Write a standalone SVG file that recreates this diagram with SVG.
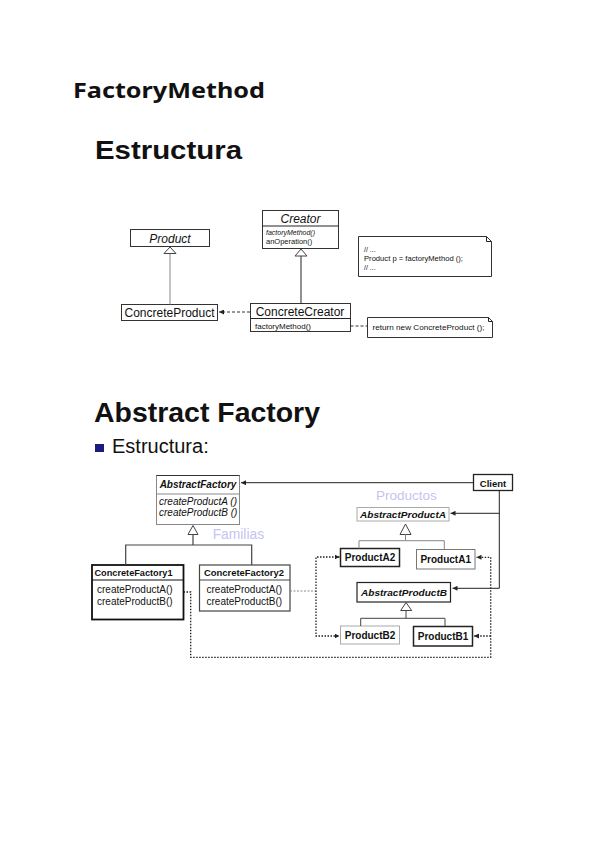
<svg xmlns="http://www.w3.org/2000/svg" width="599" height="848" viewBox="0 0 599 848">
<style>
text{font-family:"Liberation Sans",Arial,sans-serif;fill:#111}
.h{font-weight:700}
.box{fill:#fff;stroke:#333;stroke-width:1}
.ln{fill:none;stroke:#222;stroke-width:1}
.lg{fill:none;stroke:#888;stroke-width:1}
.dash{fill:none;stroke:#333;stroke-width:1;stroke-dasharray:3,2}
.dot{fill:none;stroke:#222;stroke-width:1.3;stroke-dasharray:1.5,1.5}
.tri{fill:#fff;stroke:#444;stroke-width:1}
.lav{fill:#c4c4f2}
</style>
<defs>
<marker id="ah" viewBox="0 0 6 6" refX="6" refY="3" markerWidth="5" markerHeight="5" orient="auto" markerUnits="userSpaceOnUse">
<path d="M0,0 L6,3 L0,6 z" fill="#222"/>
</marker>
</defs>
<rect width="599" height="848" fill="#fff"/>

<text x="73" y="98" style="font-family:'Noto Sans','Liberation Sans',sans-serif" font-weight="700" font-size="21" textLength="192" lengthAdjust="spacingAndGlyphs">FactoryMethod</text>
<text x="95" y="159" class="h" font-size="25" textLength="147" lengthAdjust="spacingAndGlyphs">Estructura</text>

<!-- Factory Method diagram -->
<g id="product">
<rect class="box" x="130.5" y="229.5" width="79" height="17"/>
<text x="170" y="243" font-size="12" font-style="italic" text-anchor="middle">Product</text>
</g>
<g id="creator">
<rect class="box" x="262.5" y="210.5" width="76" height="38"/>
<line class="ln" x1="262.5" y1="226" x2="338.5" y2="226"/>
<text x="300.5" y="223" font-size="12" font-style="italic" text-anchor="middle">Creator</text>
<text x="266" y="235" font-size="7" font-style="italic">factoryMethod()</text>
<text x="266" y="244" font-size="7.5">anOperation()</text>
</g>
<g id="concreteProduct">
<rect class="box" x="121.5" y="304.5" width="96" height="16"/>
<text x="169.5" y="317" font-size="12" text-anchor="middle">ConcreteProduct</text>
</g>
<g id="concreteCreator">
<rect class="box" x="250.5" y="303.5" width="100" height="28"/>
<line class="ln" x1="250.5" y1="318.5" x2="350.5" y2="318.5"/>
<text x="300" y="316" font-size="12" text-anchor="middle">ConcreteCreator</text>
<text x="255" y="328.5" font-size="8">factoryMethod()</text>
</g>
<g id="note1">
<path class="box" d="M358.5,236.5 H486.5 L491.5,241.5 V276.5 H358.5 Z"/>
<path class="ln" d="M486.5,236.5 V241.5 H491.5"/>
<text x="364" y="252" font-size="7">// ...</text>
<text x="364" y="261" font-size="7.5" textLength="99" lengthAdjust="spacingAndGlyphs">Product p = factoryMethod ();</text>
<text x="364" y="270" font-size="7">// ...</text>
</g>
<g id="note2">
<path class="box" d="M367.5,317.5 H488.5 L492.5,321.5 V337.5 H367.5 Z"/>
<path class="ln" d="M488.5,317.5 V321.5 H492.5"/>
<text x="372.5" y="330" font-size="8" textLength="112" lengthAdjust="spacingAndGlyphs">return new ConcreteProduct ();</text>
</g>
<g id="fm-connectors">
<line class="lg" x1="170" y1="254" x2="170" y2="304.5"/>
<polygon class="tri" points="170,247 164,253.5 176,253.5"/>
<line class="ln" x1="301" y1="256" x2="301" y2="303.5"/>
<polygon class="tri" points="301,249 295,256 307,256"/>
<line class="dash" x1="250" y1="312" x2="219" y2="312" marker-end="url(#ah)"/>
<line class="dash" x1="350.5" y1="326" x2="367.5" y2="326"/>
</g>

<!-- Abstract Factory -->
<text x="94" y="422" class="h" font-size="28.5" textLength="226" lengthAdjust="spacingAndGlyphs">Abstract Factory</text>
<rect x="95" y="444" width="9" height="8" fill="#1c1c80"/>
<text x="112" y="453" font-size="20">Estructura:</text>

<g id="abstractFactory">
<rect x="156.5" y="475.5" width="83" height="49" fill="#fff" stroke="#888"/>
<line x1="156.5" y1="475.5" x2="239.5" y2="475.5" stroke="#333"/>
<line x1="156.5" y1="494" x2="239.5" y2="494" stroke="#888"/>
<text x="198" y="488" font-size="10" class="h" font-style="italic" text-anchor="middle">AbstractFactory</text>
<text x="159" y="505" font-size="10" font-style="italic" fill="#222">createProductA ()</text>
<text x="159" y="516" font-size="10" font-style="italic" fill="#222">createProductB ()</text>
</g>
<text x="212.7" y="538.5" font-size="13.8" class="lav">Familias</text>
<text x="376" y="499.5" font-size="13.5" class="lav">Productos</text>

<g id="concreteFactory1">
<rect x="92" y="565" width="91.5" height="54.5" fill="#fff" stroke="#111" stroke-width="1.8"/>
<line x1="92" y1="580" x2="183.5" y2="580" stroke="#111" stroke-width="1.2"/>
<text x="94.5" y="576" font-size="9.5" class="h" textLength="78" lengthAdjust="spacingAndGlyphs">ConcreteFactory1</text>
<text x="97" y="593" font-size="10" fill="#222">createProductA()</text>
<text x="97" y="604.5" font-size="10" fill="#222">createProductB()</text>
</g>
<g id="concreteFactory2">
<rect x="199.5" y="565" width="90.5" height="46" fill="#fff" stroke="#444" stroke-width="1.2"/>
<line x1="199.5" y1="580" x2="290" y2="580" stroke="#444"/>
<text x="204" y="576" font-size="9.5" class="h" textLength="80" lengthAdjust="spacingAndGlyphs">ConcreteFactory2</text>
<text x="206.5" y="593" font-size="10" fill="#444">createProductA()</text>
<text x="206.5" y="604.5" font-size="10" fill="#444">createProductB()</text>
</g>
<g id="client">
<rect x="473.5" y="474.5" width="39" height="16" fill="#fff" stroke="#222" stroke-width="1.3"/>
<text x="493" y="486.5" font-size="9.5" class="h" text-anchor="middle">Client</text>
</g>
<g id="abstractProductA">
<rect x="357" y="507.5" width="92" height="13.5" fill="#fff" stroke="#aaa"/>
<text x="360" y="518" font-size="9.5" class="h" font-style="italic" textLength="86" lengthAdjust="spacingAndGlyphs">AbstractProductA</text>
</g>
<g id="productA2">
<rect x="340.5" y="548.5" width="59" height="18" fill="#fff" stroke="#222" stroke-width="1.5"/>
<text x="370" y="561" font-size="10" class="h" text-anchor="middle">ProductA2</text>
</g>
<g id="productA1">
<rect x="416.5" y="549.5" width="58.5" height="19.5" fill="#fff" stroke="#777"/>
<text x="445.7" y="563" font-size="10" class="h" text-anchor="middle">ProductA1</text>
</g>
<g id="abstractProductB">
<rect x="357" y="582.5" width="93.5" height="19.5" fill="#fff" stroke="#222" stroke-width="1.2"/>
<text x="361" y="595.5" font-size="9.5" class="h" font-style="italic" textLength="86" lengthAdjust="spacingAndGlyphs">AbstractProductB</text>
</g>
<g id="productB2">
<rect x="340.5" y="626" width="59" height="18" fill="#fff" stroke="#aaa"/>
<text x="370" y="639" font-size="10" class="h" text-anchor="middle">ProductB2</text>
</g>
<g id="productB1">
<rect x="413.5" y="626.5" width="59" height="19.5" fill="#fff" stroke="#222" stroke-width="1.5"/>
<text x="443" y="640" font-size="10" class="h" text-anchor="middle">ProductB1</text>
</g>

<g id="af-connectors">
<polygon class="tri" points="193,525.5 188,534.5 198,534.5" stroke="#888"/>
<path d="M193,534.5 V545 M125.7,565 V545 H251.7 V565" fill="none" stroke="#444" stroke-width="1.2"/>
<polygon class="tri" points="405.5,524 400,534.5 411,534.5" stroke="#888"/>
<path d="M405.5,534.5 V540.7 M359,548.5 V540.7 H444.3 V549.5" fill="none" stroke="#888"/>
<polygon class="tri" points="406,602.5 400.7,610.5 411.7,610.5" stroke="#666"/>
<path d="M406,610.5 V618.3 M360.7,626 V618.3 H445 V626.5" fill="none" stroke="#444"/>
<line class="ln" x1="473.5" y1="482.7" x2="241" y2="482.7" marker-end="url(#ah)"/>
<path class="ln" d="M499.3,490.5 V588.3 H452.5" marker-end="url(#ah)"/>
<line class="ln" x1="499.3" y1="513.3" x2="450.5" y2="513.3" marker-end="url(#ah)"/>
<path class="dot" d="M183.5,592 H190.7 V657.3 H490.7 V557.3 H476.5" marker-end="url(#ah)"/>
<line class="dot" x1="490.7" y1="636" x2="474" y2="636" marker-end="url(#ah)"/>
<line x1="290" y1="591" x2="316" y2="591" stroke="#888" stroke-width="1" stroke-dasharray="2,1.5"/>
<path class="dot" d="M339.5,557 H316 V636 H339.5" marker-end="url(#ah)"/>
<line x1="316" y1="557" x2="339.5" y2="557" stroke="none" marker-end="url(#ah)"/>
</g>
</svg>
